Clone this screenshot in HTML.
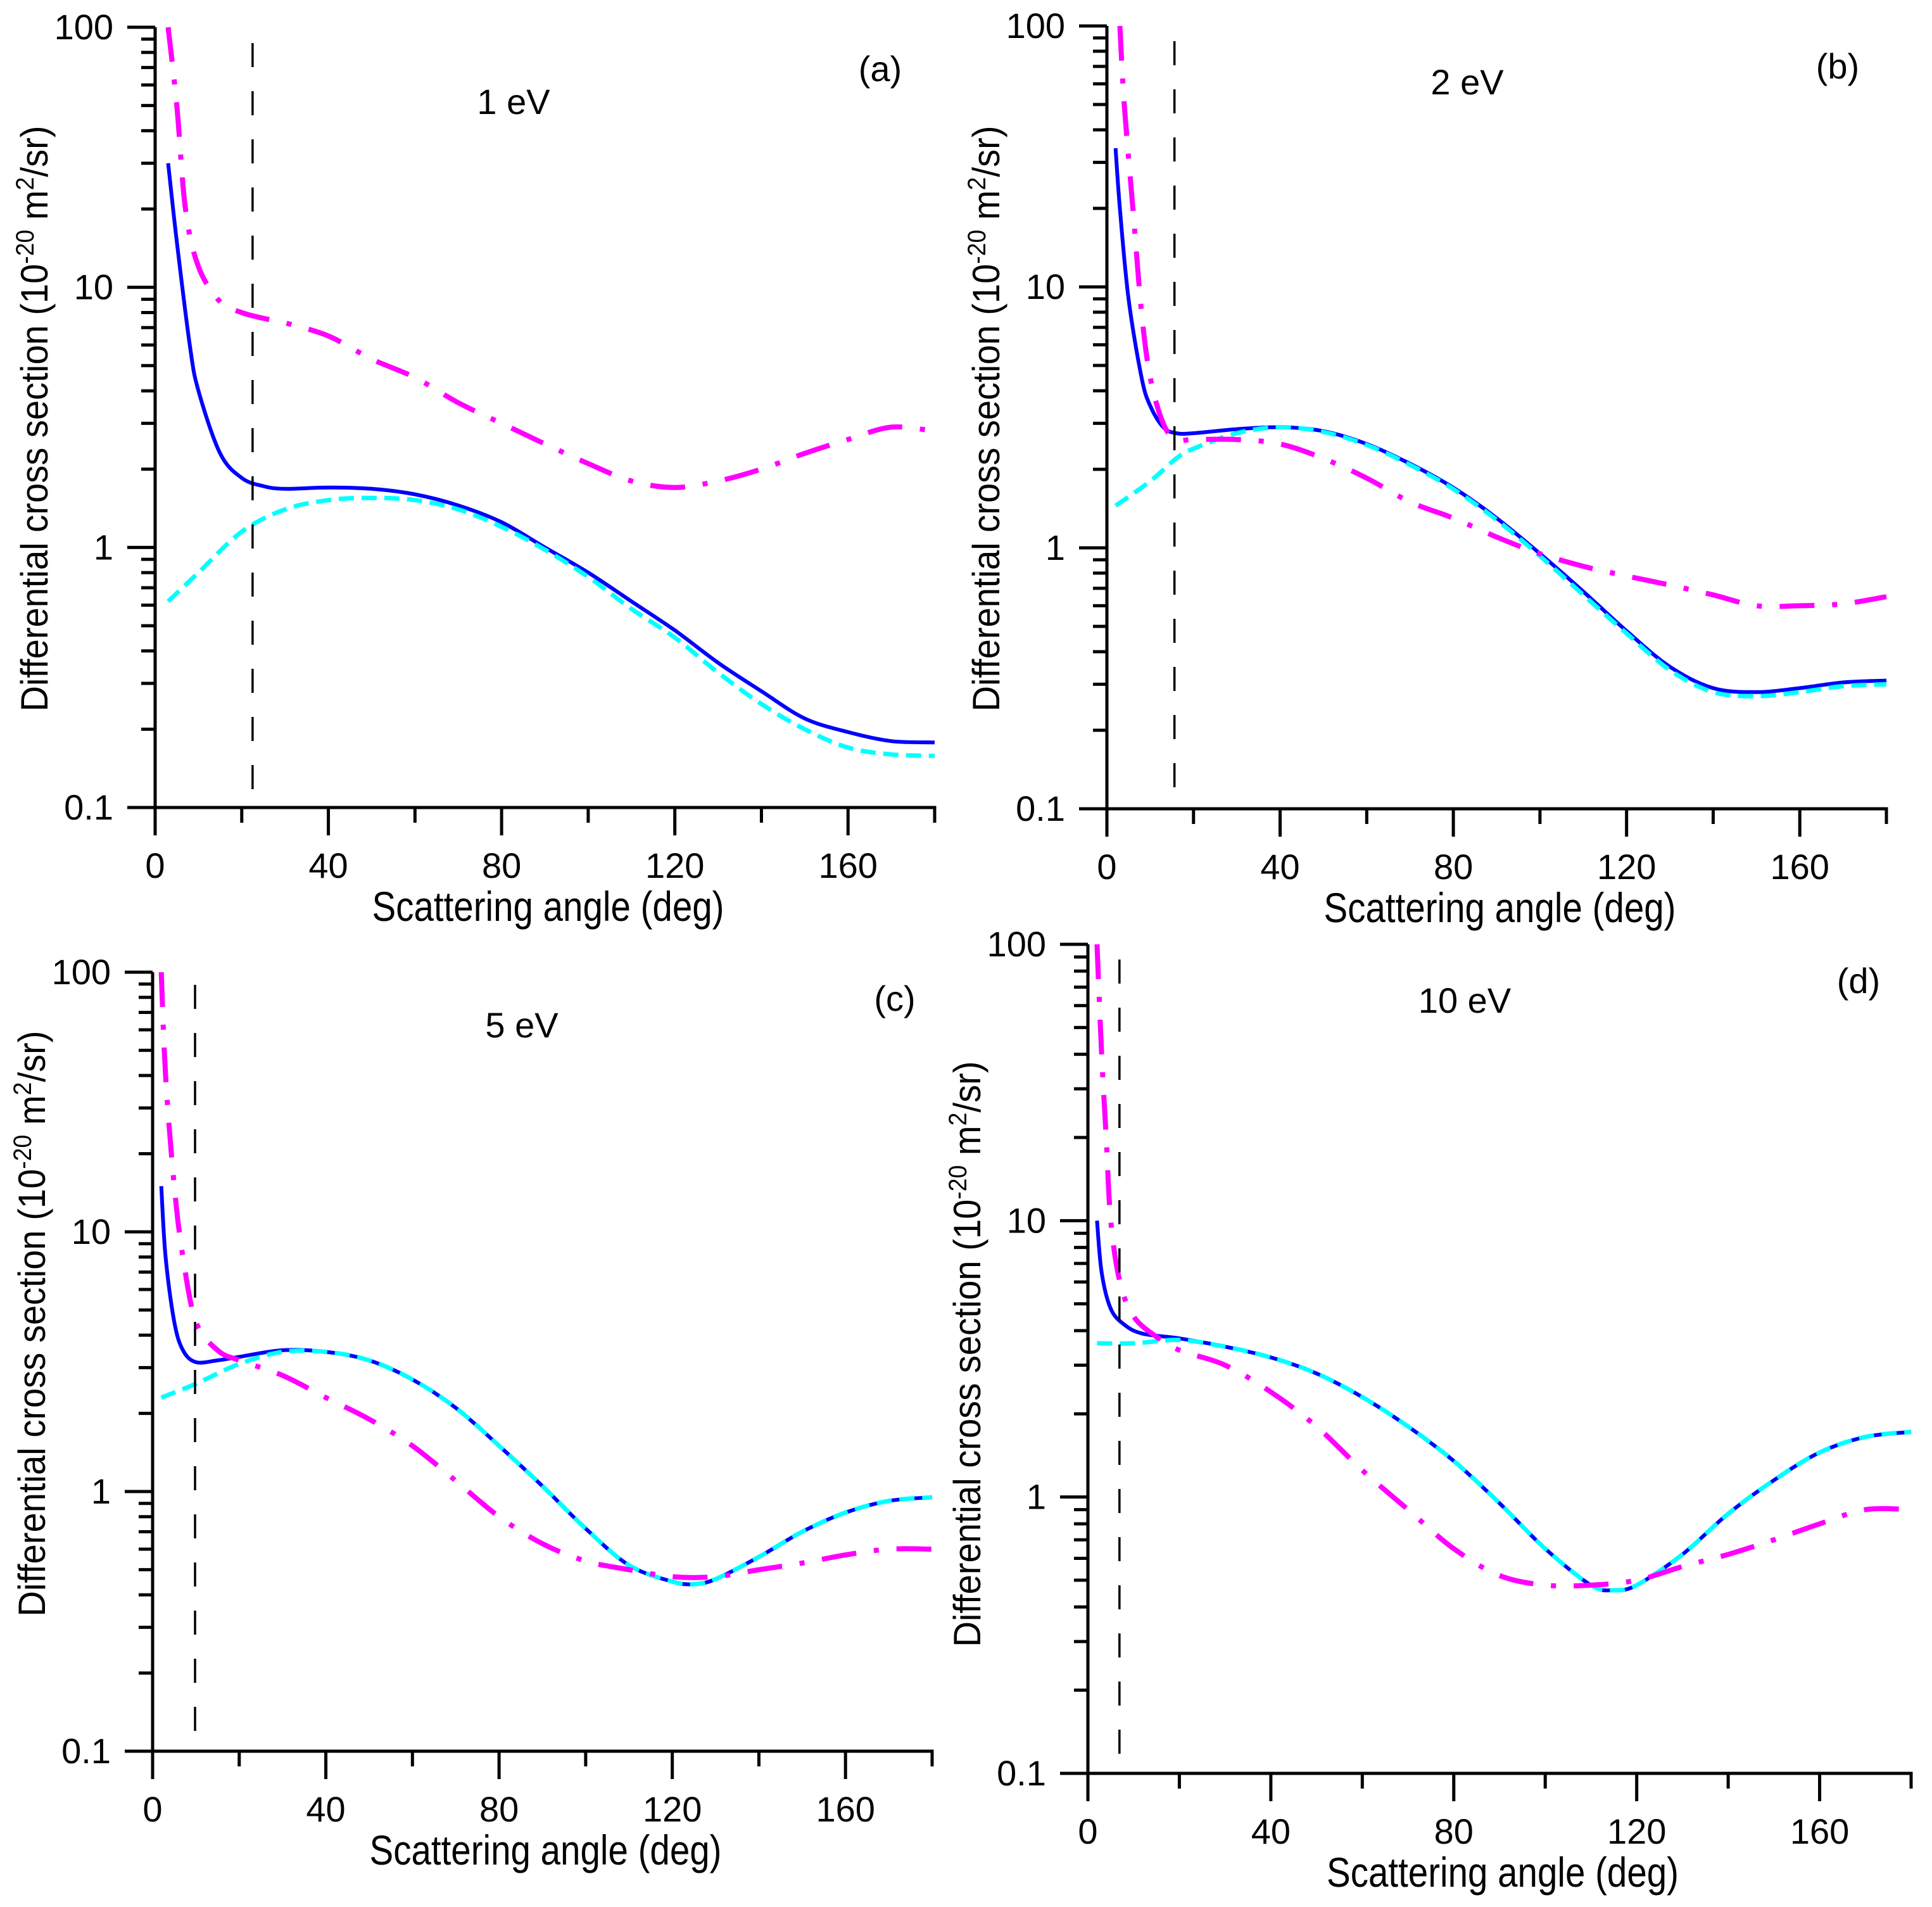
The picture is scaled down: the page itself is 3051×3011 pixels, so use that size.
<!DOCTYPE html>
<html><head><meta charset="utf-8">
<style>
html,body{margin:0;padding:0;background:#fff;}
svg{display:block;font-family:"Liberation Sans",Arial,sans-serif;}
</style></head>
<body>
<svg id="fig" width="3051" height="3011" viewBox="0 0 3051 3011" xmlns="http://www.w3.org/2000/svg"></svg>
<script>
// ---- data (angle in deg, DCS in 1e-20 m^2/sr) ----
const xTicks = [0, 40, 80, 120, 160];
const yTickLabels = ["0.1", "1", "10", "100"];
const energies = ["1 eV", "2 eV", "5 eV", "10 eV"];
const panelLabels = ["(a)", "(b)", "(c)", "(d)"];
const cutoffAngles = [22.5, 15.6, 9.8, 6.9];

const aBlueX = [3,5,8,10,15,20,25,30,40,50,60,70,80,90,100,110,120,130,140,150,160,170,180];
const aBlueY = [30,15,6,4,2.3,1.85,1.72,1.68,1.7,1.68,1.6,1.45,1.25,1.0,0.8,0.62,0.48,0.36,0.28,0.22,0.195,0.18,0.178];
const aCyanX = [3,10,20,30,40,50,60,70,80,90,100,110,120,130,140,150,160,170,180];
const aCyanY = [0.62,0.8,1.15,1.4,1.52,1.55,1.52,1.4,1.2,0.98,0.77,0.58,0.45,0.33,0.25,0.2,0.17,0.16,0.158];
const aMagX = [3,5,7,10,15,20,25,30,40,50,60,70,80,90,100,110,120,130,140,150,160,170,180];
const aMagY = [100,50,20,12,8.8,8,7.6,7.3,6.5,5.3,4.5,3.6,3.0,2.5,2.1,1.8,1.7,1.8,2.0,2.3,2.6,2.9,2.8];

const bBlueX = [2,3,5,8,10,13,16,20,30,40,50,60,70,80,90,100,110,120,130,140,150,160,170,180];
const bBlueY = [34,20,9,4.5,3.5,2.9,2.75,2.75,2.85,2.9,2.8,2.5,2.1,1.7,1.3,0.95,0.68,0.48,0.35,0.29,0.28,0.29,0.305,0.31];
const bCyanX = [2,10,16,20,30,40,50,60,70,80,90,100,110,120,130,140,150,160,170,180];
const bCyanY = [1.45,1.8,2.2,2.4,2.75,2.9,2.78,2.48,2.08,1.68,1.28,0.93,0.66,0.47,0.34,0.28,0.27,0.28,0.295,0.30];
const bMagX = [3,4,6,8,10,13,16,20,30,40,50,60,70,80,90,100,110,120,130,140,150,160,170,180];
const bMagY = [100,50,20,8,4.5,3.0,2.6,2.6,2.6,2.5,2.2,1.85,1.5,1.3,1.1,0.95,0.85,0.78,0.72,0.66,0.6,0.6,0.61,0.65];

const cBlueX = [2,3,5,7,10,15,20,30,40,50,60,70,80,90,100,110,120,125,130,140,150,160,170,180];
const cBlueY = [15,8,4.5,3.5,3.15,3.2,3.3,3.5,3.45,3.2,2.7,2.1,1.5,1.05,0.72,0.52,0.45,0.44,0.46,0.56,0.7,0.83,0.92,0.95];
const cCyanX = [2,10,20,30,40,50,60,70,80,90,100,110,120,125,130,140,150,160,170,180];
const cCyanY = [2.3,2.6,3.1,3.45,3.45,3.2,2.7,2.1,1.5,1.05,0.72,0.52,0.45,0.44,0.46,0.56,0.7,0.83,0.92,0.95];
const cMagX = [2,3,5,7,10,15,20,30,40,50,60,70,80,90,100,110,120,130,140,150,160,170,180];
const cMagY = [100,40,15,8,4.5,3.5,3.2,2.8,2.3,1.9,1.5,1.1,0.8,0.63,0.54,0.5,0.47,0.47,0.5,0.53,0.57,0.6,0.6];

const dBlueX = [2,3,5,8,12,20,30,40,50,60,70,80,90,100,110,115,120,130,140,150,160,170,180];
const dBlueY = [10,6.5,4.8,4.2,3.9,3.75,3.5,3.2,2.8,2.3,1.8,1.35,0.95,0.65,0.48,0.46,0.48,0.62,0.87,1.15,1.45,1.65,1.72];
const dCyanX = [2,10,20,30,40,50,60,70,80,90,100,110,115,120,130,140,150,160,170,180];
const dCyanY = [3.6,3.6,3.7,3.5,3.2,2.8,2.3,1.8,1.35,0.95,0.65,0.48,0.46,0.48,0.62,0.87,1.15,1.45,1.65,1.72];
const dMagX = [2,3,4,5,7,10,15,20,30,40,50,60,70,80,90,100,110,120,130,140,150,160,170,180];
const dMagY = [100,40,20,10,6,4.5,3.8,3.4,3.0,2.4,1.8,1.25,0.9,0.65,0.52,0.48,0.48,0.5,0.56,0.62,0.7,0.8,0.9,0.9];

const seriesX = [[aBlueX,aCyanX,aMagX],[bBlueX,bCyanX,bMagX],[cBlueX,cCyanX,cMagX],[dBlueX,dCyanX,dMagX]];
const seriesY = [[aBlueY,aCyanY,aMagY],[bBlueY,bCyanY,bMagY],[cBlueY,cCyanY,cMagY],[dBlueY,dCyanY,dMagY]];

// ---- layout ----
const panels = [
  {x0:245, x1:1476, yT:43, yB:1275, vTop:68, e:[811,180], l:[1390,128], ytc:661},
  {x0:1748, x1:2979, yT:41, yB:1277, vTop:65, e:[2317,149], l:[2902,124], ytc:661},
  {x0:241, x1:1472, yT:1535, yB:2765, vTop:1555, e:[824,1638], l:[1413,1596], ytc:2090},
  {x0:1718, x1:3018, yT:1491, yB:2800, vTop:1515, e:[2313,1599], l:[2935,1568], ytc:2138}
];
const names = ["blue-solid","cyan-dashed","magenta-dashdot"];
const styles = [
  {stroke:"#0000ff", w:6, dash:""},
  {stroke:"#00ffff", w:7, dash:"24 12"},
  {stroke:"#ff00ff", w:8, dash:"55 28 8 28"}
];
const NS = "http://www.w3.org/2000/svg";
const svg = document.getElementById('fig');
function mk(tag, attrs, parent){
  const e = document.createElementNS(NS, tag);
  for (const k in attrs) e.setAttribute(k, attrs[k]);
  (parent||svg).appendChild(e); return e;
}
function smooth(pts){
  let d = "M"+pts[0][0].toFixed(1)+","+pts[0][1].toFixed(1);
  for (let i=0;i<pts.length-1;i++){
    const p0=pts[Math.max(0,i-1)], p1=pts[i], p2=pts[i+1], p3=pts[Math.min(pts.length-1,i+2)];
    const c1=[p1[0]+(p2[0]-p0[0])/6, p1[1]+(p2[1]-p0[1])/6];
    const c2=[p2[0]-(p3[0]-p1[0])/6, p2[1]-(p3[1]-p1[1])/6];
    d += " C"+c1[0].toFixed(1)+","+c1[1].toFixed(1)+" "+c2[0].toFixed(1)+","+c2[1].toFixed(1)+" "+p2[0].toFixed(1)+","+p2[1].toFixed(1);
  }
  return d;
}
panels.forEach((P, pi) => {
  const g = mk('g', {});
  
  
  const sx = v => P.x0 + (v/180)*(P.x1-P.x0);
  const dec = (P.yB-P.yT)/3;
  const sy = v => P.yB - (Math.log10(v)+1)*dec;
  const cp = mk('clipPath', {id:'clip'+pi}, g);
  mk('rect', {x:P.x0, y:P.yT-5, width:P.x1-P.x0+2, height:P.yB-P.yT+5}, cp);
  for (let s=0;s<3;s++){
    const pts = seriesX[pi][s].map((x,i)=>[sx(x), sy(seriesY[pi][s][i])]);
    const path = mk('path', {d:smooth(pts), fill:'none', stroke:styles[s].stroke, 'stroke-width':styles[s].w, 'stroke-dasharray':styles[s].dash, 'clip-path':'url(#clip'+pi+')'}, g);
    
    
  }
  const vl = mk('line', {x1:sx(cutoffAngles[pi]), x2:sx(cutoffAngles[pi]), y1:P.vTop, y2:P.yB, stroke:'#000', 'stroke-width':3.5, 'stroke-dasharray':'38 38'}, g);
  
  
  const ax = mk('path', {d:`M${P.x0},${P.yT} V${P.yB} H${P.x1} V${P.yB+24}`, fill:'none', stroke:'#000', 'stroke-width':5}, g);
  
  
  for (let a=0;a<=180;a+=20){
    const major = (a%40===0);
    mk('line', {x1:sx(a), x2:sx(a), y1:P.yB, y2:P.yB+(major?44:24), stroke:'#000', 'stroke-width':5}, g);
  }
  xTicks.forEach(t => {
    const tx = mk('text', {x:sx(t), y:P.yB+111, 'font-size':56, 'text-anchor':'middle'}, g);
    tx.textContent = t;
    
    
  });
  for (let d=0; d<3; d++){
    for (let m=1;m<=9;m++){
      const v = Math.pow(10,d-1)*m;
      mk('line', {x1:P.x0, x2:P.x0-(m===1?44:22), y1:sy(v), y2:sy(v), stroke:'#000', 'stroke-width':5}, g);
    }
  }
  mk('line', {x1:P.x0, x2:P.x0-44, y1:P.yT, y2:P.yT, stroke:'#000', 'stroke-width':5}, g);
  yTickLabels.forEach((lab,i) => {
    const ty = mk('text', {x:P.x0-66, y:P.yB - i*dec + 19, 'font-size':56, 'text-anchor':'end'}, g);
    ty.textContent = lab;
    
    
  });
  const xt = mk('text', {x:(P.x0+P.x1)/2 + 5, y:P.yB+179, 'font-size':66, 'text-anchor':'middle', textLength:556, lengthAdjust:'spacingAndGlyphs'}, g);
  xt.textContent = 'Scattering angle (deg)';
  
  
  const yx = P.x0-170;
  const yt = mk('text', {x:0, y:0, 'font-size':60, 'text-anchor':'middle', textLength:925, lengthAdjust:'spacingAndGlyphs', transform:`translate(${yx},${P.ytc}) rotate(-90)`}, g);
  
  
  const t1 = mk('tspan', {}, yt); t1.textContent = 'Differential cross section (10';
  const t2 = mk('tspan', {dy:-22, 'font-size':40}, yt); t2.textContent = '-20';
  const t3 = mk('tspan', {dy:22}, yt); t3.textContent = ' m';
  const t4 = mk('tspan', {dy:-22, 'font-size':40}, yt); t4.textContent = '2';
  const t5 = mk('tspan', {dy:22}, yt); t5.textContent = '/sr)';
  const en = mk('text', {x:P.e[0], y:P.e[1], 'font-size':56, 'text-anchor':'middle'}, g);
  en.textContent = energies[pi];
  
  
  const pl = mk('text', {x:P.l[0], y:P.l[1], 'font-size':56, 'text-anchor':'middle'}, g);
  pl.textContent = panelLabels[pi];
  
  
});
</script>
</body></html>
